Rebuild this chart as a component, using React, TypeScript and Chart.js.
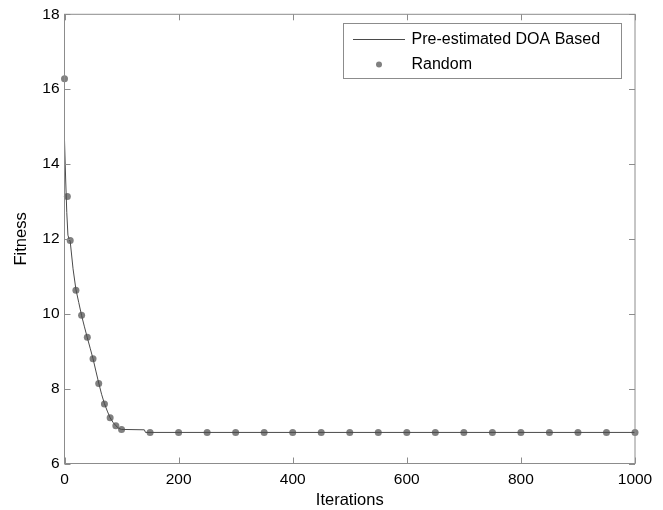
import React, { useEffect, useRef } from "react";
import { Chart, registerables } from "chart.js";

Chart.register(...registerables);

// Pre-estimated DOA Based (solid line)
const lineIter = [0, 2, 4, 6, 8, 10, 15, 20, 25, 30, 35, 40, 45, 50, 55, 60, 65, 70, 75, 80, 85, 90, 95, 100, 140, 142, 1000];
const lineFit = [14.64, 13.6, 12.7, 12.1, 12.0, 11.93, 11.2, 10.65, 10.3, 9.95, 9.65, 9.36, 9.08, 8.8, 8.47, 8.15, 7.85, 7.6, 7.4, 7.22, 7.1, 7.01, 6.94, 6.91, 6.9, 6.83, 6.83];

// Random (dots)
const randIter = [0, 5, 10, 20, 30, 40, 50, 60, 70, 80, 90, 100, 150, 200, 250, 300, 350, 400, 450, 500, 550, 600, 650, 700, 750, 800, 850, 900, 950, 1000];
const randFit = [16.28, 13.13, 11.96, 10.63, 9.96, 9.37, 8.8, 8.14, 7.59, 7.22, 7.01, 6.91, 6.83, 6.83, 6.83, 6.83, 6.83, 6.83, 6.83, 6.83, 6.83, 6.83, 6.83, 6.83, 6.83, 6.83, 6.83, 6.83, 6.83, 6.83];

const xTicks = [0, 200, 400, 600, 800, 1000];
const yTicks = [6, 8, 10, 12, 14, 16, 18];

const seriesNames = ["Pre-estimated DOA Based", "Random"];
const xTitle = "Iterations";
const yTitle = "Fitness";

const FONT = "'Liberation Sans', Arial, Helvetica, sans-serif";
const AXIS_COLOR = "#8c8c8c";
const LINE_COLOR = "#4a4a4a";
const DOT_COLOR = "#808080";

const framePlugin = {
  id: "frame",
  afterDatasetsDraw(chart: any) {
    const { ctx, chartArea: a, scales } = chart;
    const xs = scales.x;
    const ys = scales.y;
    ctx.save();
    ctx.strokeStyle = AXIS_COLOR;
    ctx.lineWidth = 1;
    ctx.strokeRect(a.left, a.top, a.right - a.left, a.bottom - a.top);
    const tl = 6;
    ctx.beginPath();
    xTicks.forEach((v) => {
      const px = Math.round(xs.getPixelForValue(v)) + 0.5;
      ctx.moveTo(px, a.bottom);
      ctx.lineTo(px, a.bottom - tl);
      ctx.moveTo(px, a.top);
      ctx.lineTo(px, a.top + tl);
    });
    yTicks.forEach((v) => {
      const py = Math.round(ys.getPixelForValue(v)) + 0.5;
      ctx.moveTo(a.left, py);
      ctx.lineTo(a.left + tl, py);
      ctx.moveTo(a.right, py);
      ctx.lineTo(a.right - tl, py);
    });
    ctx.stroke();

    // legend
    const bx = 343.5, by = 23.5, bw = 278, bh = 55;
    ctx.fillStyle = "#ffffff";
    ctx.fillRect(bx, by, bw, bh);
    ctx.strokeStyle = AXIS_COLOR;
    ctx.strokeRect(bx, by, bw, bh);
    ctx.strokeStyle = LINE_COLOR;
    ctx.beginPath();
    ctx.moveTo(353, 39.5);
    ctx.lineTo(405, 39.5);
    ctx.stroke();
    ctx.fillStyle = DOT_COLOR;
    ctx.beginPath();
    ctx.arc(379, 64.5, 3, 0, Math.PI * 2);
    ctx.fill();
    ctx.fillStyle = "#000";
    ctx.font = `16px ${FONT}`;
    ctx.textBaseline = "middle";
    ctx.textAlign = "left";
    ctx.fillText(seriesNames[0], 411.5, 39.5);
    ctx.fillText(seriesNames[1], 411.5, 64.5);
    ctx.restore();
  },
};

export default function App() {
  const ref = useRef<HTMLCanvasElement>(null);
  useEffect(() => {
    document.body.style.margin = "0";
    const canvas = ref.current!;
    const chart = new Chart(canvas, {
      type: "line",
      data: {
        datasets: [
          {
            label: seriesNames[0],
            data: lineIter.map((x, i) => ({ x, y: lineFit[i] })),
            borderColor: LINE_COLOR,
            borderWidth: 1,
            pointRadius: 0,
            tension: 0,
            fill: false,
            clip: false as any,
          },
          {
            label: seriesNames[1],
            data: randIter.map((x, i) => ({ x, y: randFit[i] })),
            showLine: false,
            pointRadius: 3.5,
            pointBackgroundColor: DOT_COLOR,
            pointBorderColor: DOT_COLOR,
            pointBorderWidth: 0,
            clip: false as any,
          },
        ],
      },
      options: {
        responsive: false,
        animation: false,
        layout: { padding: { left: 0, right: 28, top: 14, bottom: 0 } },
        plugins: { legend: { display: false }, tooltip: { enabled: false } },
        scales: {
          x: {
            type: "linear",
            min: 0,
            max: 1000,
            afterFit: (s: any) => { s.height = 46.5; },
            afterBuildTicks: (s: any) => { s.ticks = xTicks.map((v) => ({ value: v })); },
            grid: { display: false, drawTicks: false },
            border: { display: false },
            ticks: { color: "#000", font: { family: FONT, size: 15.5 }, padding: 7, maxRotation: 0, callback: (v: any) => String(v) },
            title: { display: true, text: xTitle, color: "#000", font: { family: FONT, size: 16.5 }, padding: { top: 0, bottom: 0 } },
          },
          y: {
            type: "linear",
            min: 6,
            max: 18,
            afterFit: (s: any) => { s.width = 64.5; },
            afterBuildTicks: (s: any) => { s.ticks = yTicks.map((v) => ({ value: v })); },
            grid: { display: false, drawTicks: false },
            border: { display: false },
            ticks: { color: "#000", font: { family: FONT, size: 15.5 }, padding: 5, callback: (v: any) => String(v) },
            title: { display: true, text: yTitle, color: "#000", font: { family: FONT, size: 16.5 }, padding: { top: 12, bottom: 0 } },
          },
        },
      },
      plugins: [framePlugin],
    });
    return () => chart.destroy();
  }, []);
  return <canvas ref={ref} width={663} height={510} style={{ display: "block" }} />;
}
